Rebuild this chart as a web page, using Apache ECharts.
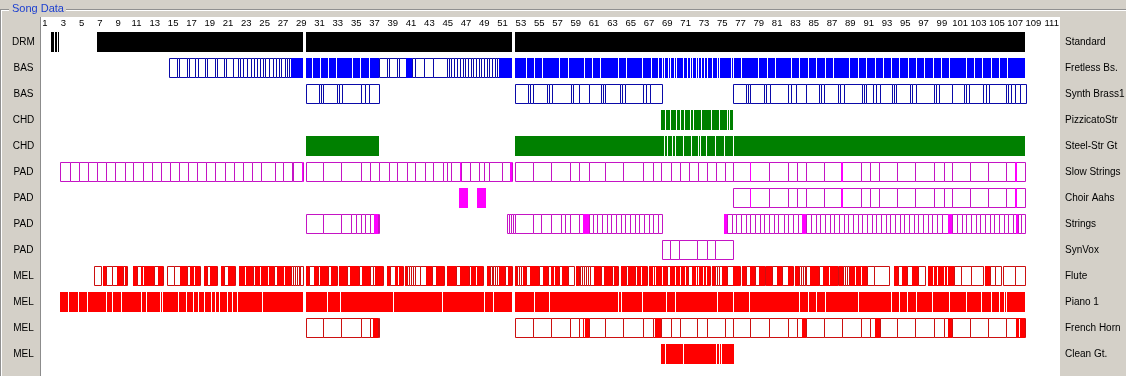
<!DOCTYPE html>
<html><head><meta charset="utf-8">
<script src="https://cdn.jsdelivr.net/npm/echarts@6/dist/echarts.min.js"></script>
<style>html,body{margin:0;padding:0;background:#d4d0c8;}#c{width:1126px;height:376px;}</style>
</head><body><div id="c"></div>
<script>
// ---- data (x values in bars) ----
const barTicks = [1,3,5,7,9,11,13,15,17,19,21,23,25,27,29,31,33,35,37,39,41,43,45,47,49,51,53,55,57,59,61,63,65,67,69,71,73,75,77,79,81,83,85,87,89,91,93,95,97,99,101,103,105,107,109,111];
const rowsLeft = ['DRM','BAS','BAS','CHD','CHD','PAD','PAD','PAD','PAD','MEL','MEL','MEL','MEL'];
const rowsRight = ['Standard','Fretless Bs.','Synth Brass1','PizzicatoStr','Steel-Str Gt','Slow Strings','Choir Aahs','Strings','SynVox','Flute','Piano 1','French Horn','Clean Gt.'];

// outline runs: boundary lists (consecutive notes); fill runs: boundary lists of solid notes
const drmFill = [[1.62,2.02],[2.14,2.28],[2.4,2.52],[6.71,29.16],[29.52,52.03],[52.36,108.08]];

const basFretOut = [
 [14.59,15.46,15.68,16.48,16.77,17.43,17.72,18.52,18.74,19.54,19.76,20.56,20.78,21.58,22.09,22.31,22.6,23.04,23.47,23.84,24.2,24.49,24.78,25.07,25.51,25.88,26.24,26.53,26.75,27.26,27.48,27.7,27.84],
 [37.46,38.41,38.63,39.43,39.65,40.45,41.12,41.48,42.36,43.43,44.89,45.11,45.4,45.69,46.06,46.35,46.64,46.93,47.22,47.51,47.81,48.1,48.39,48.68,48.97,49.26,49.55,49.85,50.14,50.43,50.65]
];
const basFretFill = [
 [27.84,29.16],
 [29.52,30.25,31.12,31.99,32.87,34.69,35.56,36.51,37.46],
 [40.45,41.12],
 [50.65,52.03],
 [52.36,53.63,54.58,55.45,57.27,58.22,60.04,60.92,61.79,63.69,64.56,66.38,67.33,68.13,68.49,68.78,69.15,69.44,69.81,70.1,70.83,71.26,71.56,71.85,72.21,72.5,72.79,73.08,73.45,74.03,74.5,74.76,76.03,76.25,77.2,79.02,79.97,80.84,82.66,83.54,84.49,85.36,86.31,87.18,89.0,89.95,90.83,91.77,92.65,93.59,94.47,95.42,96.29,97.16,98.11,98.99,99.86,101.76,102.63,103.51,104.45,105.4,106.2,108.08]
];

const basBrassOut = [
 [29.52,30.9,31.12,31.34,32.94,33.16,33.45,35.49,35.93,36.37,37.53],
 [52.35,53.78,54.0,54.29,55.82,56.04,56.4,58.44,58.73,59.32,60.41,61.72,61.94,62.23,63.83,64.05,64.34,66.38,66.68,67.11,68.38],
 [76.17,77.56,77.78,78.07,79.6,79.82,80.26,82.22,82.51,83.1,84.19,85.57,85.79,86.08,87.61,87.83,88.27,90.23,90.45,90.74,91.47,91.76,92.2,93.51,93.73,94.02,95.55,95.77,96.13,98.1,98.32,98.69,100.14,101.45,101.67,101.96,103.49,103.78,104.15,106.04,106.26,106.55,106.99,107.5,108.15]
];

const chdPizzFill = [[68.35,68.85,69.44,70.02,70.53,70.89,71.55,71.92,72.79,73.89,74.72,75.59,75.81,76.17]];
const chdSteelFill = [[29.52,37.46],[52.36,68.78,69.07,69.66,69.95,70.82,71.7,72.43,72.72,73.37,74.32,75.3,76.32,108.08]];

const padSlowOut = [
 [2.66,3.73,4.72,5.7,6.71,7.67,8.68,9.71,10.65,11.68,12.66,13.64,14.66,15.64,16.63,17.64,18.62,19.61,20.64,21.62,22.6,23.62,24.57,26.09,27.05,28.0,28.13,29.16],
 [29.52,31.41,33.38,35.49,36.51,37.46,38.55,39.5,40.51,41.47,42.49,43.43,44.45,44.97,45.4,46.42,47.44,48.39,48.97,49.48,50.94,51.89,52.03],
 [52.35,54.28,56.25,58.36,59.38,60.41,62.23,64.19,66.31,67.4,68.35,69.37,70.39,71.34,72.36,73.38,74.32,75.25,76.17,78.07,80.11,82.22,83.17,84.12,86.09,88.05,90.16,91.18,92.13,94.1,96.07,98.18,99.2,100.14,102.04,104.01,106.05,107.07,108.08]
];
const padSlowFill = [[29.05,29.16],[46.33,46.5],[51.85,52.03],[77.98,78.16],[87.96,88.14],[106.98,107.16]];

const padChoirOut = [[76.17,78.07,80.11,82.22,83.17,84.12,86.09,88.05,90.16,91.18,92.13,94.1,96.07,98.18,99.2,100.14,102.04,104.01,106.05,107.07,108.08]];
const padChoirFill = [[46.24,47.22],[48.2,49.18],[77.98,78.16],[87.96,88.14],[106.98,107.16]];

const padStrOut = [
 [29.52,31.41,33.38,34.47,34.98,35.49,36.0,36.51,36.95,37.39,37.53],
 [51.44,51.66,51.88,52.1,52.39,54.28,55.23,56.25,57.42,57.85,58.36,59.38,59.82,60.41,60.84,61.35,61.86,62.37,62.88,63.39,63.9,64.41,64.92,65.43,65.94,66.45,66.96,67.47,67.98,68.38],
 [75.23,75.52,76.03,76.54,77.05,77.56,78.07,78.58,79.09,79.6,80.11,80.62,81.13,81.71,82.22,82.73,83.24,83.75,84.19,84.7,85.21,85.72,86.23,86.74,87.25,87.76,88.27,88.78,89.29,89.8,90.31,90.83,91.34,91.85,92.36,92.87,93.38,93.89,94.4,94.91,95.42,95.93,96.44,96.95,97.46,97.97,98.48,98.99,99.64,100.14,100.65,101.16,101.67,102.18,102.69,103.2,103.71,104.23,104.74,105.25,105.76,106.27,106.78,107.07,107.36,107.65,108.08]
];
const padStrFill = [[36.95,37.39],[59.82,60.41],[75.23,75.52],[83.75,84.19],[99.64,100.14],[107.07,107.36]];

const padVoxOut = [[68.38,69.29,70.31,72.28,73.3,74.25,76.2]];

const melFluteOut = [
 [6.35,7.15],
 [7.37,7.66,8.32,8.83,9.55,9.72,9.99],
 [10.58,11.0,11.5,11.8,12.5,12.9,13.3,13.86],
 [14.36,15.1,15.8,16.5,16.8,17.4,17.94],
 [18.37,18.65,19.0,19.76],
 [20.2,20.55,21.0,21.79],
 [22.16,23.0,23.7,24.0,24.6,25.5,26.0,26.35,27.2,27.9,28.1,28.3,28.5,28.7,28.9,29.16],
 [29.52,29.9,30.4,30.8,31.0,31.9,32.3,32.87],
 [33.16,34.0,34.3,35.3,35.6,36.5,36.8,37.1,37.96],
 [38.34,38.7,39.2,39.7,40.15],
 [40.3,40.6,40.8,41.0,41.2,41.4,42.0,42.6,43.3,43.7,44.6],
 [44.89,45.9,46.3,47.3,47.5,48.2,48.89],
 [49.26,49.6,49.8,50.0,50.2,50.4,50.6,51.3,51.6,52.03],
 [52.36,52.6,52.8,53.0,53.2,53.6,54.0,55.0,55.4,56.0,56.3,56.73,57.17,57.46,58.2,58.84],
 [59.05,59.3,59.5,59.7,59.9,60.1,60.3,60.6,61.0,61.8,62.1,62.9,63.2,63.64],
 [63.94,64.5,64.7,65.5,65.7,66.2,66.78],
 [67.0,67.5,67.8,68.5,69.0,69.3,70.0,70.5,71.0,71.3,71.7,72.2,72.5,73.0,73.3,73.66],
 [73.85,74.2,74.4,74.6,75.0,75.5,76.2,76.94],
 [77.12,77.6,78.0,78.6,79.0,79.67],
 [79.81,80.4,81.0,81.5,82.2,82.73],
 [82.95,83.4,83.6,83.8,84.0,84.2,84.6,85.6,86.0,86.8,87.61],
 [87.76,88.2,88.4,88.6,88.8,89.0,89.6,90.3,90.82,91.6,93.2],
 [93.74,94.2,94.6,95.2,95.7,96.4,97.15],
 [97.51,98.1,98.6,99.3,99.7,100.29,101.09,102.2,103.52],
 [103.71,104.3,104.8,105.5],
 [105.7,106.98,108.08]
];
const melFluteFill = [
 [7.37,7.66],[8.83,9.55],[9.72,9.99],
 [10.58,11.0],[11.5,11.8,12.5],[12.5,12.9],[13.3,13.86],
 [15.8,16.5],[16.8,17.4,17.94],
 [18.37,18.65],[19.0,19.76],
 [20.2,20.55],[21.0,21.79],
 [22.16,23.0,23.7],[24.0,24.6,25.5,26.0],[26.35,27.2,27.9],
 [29.52,29.9],[30.4,30.8],[31.0,31.9],[32.3,32.87],
 [33.16,34.0],[34.3,35.3],[35.6,36.5],[37.1,37.96],
 [38.34,38.7],[39.2,39.7,40.15],
 [40.3,40.6],[42.6,43.3],[43.7,44.6],
 [44.89,45.9],[46.3,47.3],[47.5,48.2,48.89],
 [49.26,49.6],[50.6,51.3],[51.6,52.03],
 [52.36,52.6],[53.2,53.6],[54.0,55.0],[55.4,56.0],[56.3,56.73,57.17],[57.46,58.2],
 [59.05,59.3],[61.0,61.8],[62.1,62.9],[63.2,63.64],
 [63.94,64.5],[64.7,65.5],[65.7,66.2,66.78],
 [67.0,67.5,67.8,68.5,69.0],[69.3,70.0,70.5,71.0,71.3],[71.7,72.2,72.5,73.0,73.3,73.66],
 [73.85,74.2],[75.0,75.5],[76.2,76.94],
 [77.12,77.6],[78.0,78.6],[79.0,79.67],
 [79.81,80.4],[81.0,81.5],[82.2,82.73],
 [82.95,83.4],[84.6,85.6],[86.0,86.8,87.61],
 [87.76,88.2],[89.0,89.6,90.3,90.82],
 [93.74,94.2],[94.6,95.2],[95.7,96.4],
 [97.51,98.1,98.6,99.3,99.7,100.29],
 [103.71,104.3]
];

const melPianoFill = [
 [2.64,3.62,4.7,5.75,7.72,8.38,9.36,11.62,12.1,13.68,13.9,15.65,16.48,17.3,17.85,18.45,19.3,19.7,20.15,21.05,21.5,22.05,24.82,29.16],
 [29.52,31.96,33.31,39.13,44.45,44.6,49.11,50.06,52.03],
 [52.36,54.58,56.2,56.3,63.69,64.05,66.38,69.0,69.95,74.5,76.32,78.07,83.54,84.49,85.36,86.31,89.95,93.51,94.47,95.34,96.29,98.04,99.93,101.76,103.43,104.45,105.4,105.91,106.13,108.08]
];

const melHornOut = [
 [29.52,31.41,33.38,35.49,36.51,36.87,37.39,37.5],
 [52.35,54.28,56.25,58.36,59.38,59.74,60.41,62.23,64.19,66.31,67.4,67.69,68.35,69.37,70.39,72.28,73.3,75.25,76.17,78.07,80.11,82.22,83.17,83.75,84.19,86.09,88.05,90.16,91.18,91.69,92.2,94.1,96.07,98.18,99.2,99.64,100.14,102.04,104.01,106.05,107.07,108.08]
];
const melHornFill = [[36.87,37.39],[59.74,60.03,60.41],[67.69,68.35],[83.75,84.19],[91.69,92.2],[99.64,100.14],[107.07,107.43],[107.58,108.08]];

const melCleanFill = [[68.35,68.85,70.82,70.96,74.46,74.72,75.01,76.32]];

// ---- styles ----
const fillColor = ['#000000','#0000ff','#0000ff','#008000','#008000','#ff00ff','#ff00ff','#ff00ff','#ff00ff','#ff0000','#ff0000','#ff0000','#ff0000'];
const outColor  = ['#000000','#0a0aa8','#0a0aa8','#006400','#006400','#c414c4','#c414c4','#c414c4','#c414c4','#cc1010','#cc1010','#cc1010','#cc1010'];

const rowOut  = [[], basFretOut, basBrassOut, [], [], padSlowOut, padChoirOut, padStrOut, padVoxOut, melFluteOut, [], melHornOut, []];
const rowFill = [drmFill, basFretFill, [], chdPizzFill, chdSteelFill, padSlowFill, padChoirFill, padStrFill, [], melFluteFill, melPianoFill, melHornFill, melCleanFill];

const items = [];
rowOut.forEach((runs, r) => runs.forEach(run => {
  for (let i = 0; i < run.length - 1; i++) items.push([run[i], run[i+1], r, 0, 0]);
}));
rowFill.forEach((runs, r) => runs.forEach(run => {
  for (let i = 0; i < run.length - 1; i++) items.push([run[i], run[i+1], r, 1, i === run.length - 2 ? 1 : 0]);
}));

const FONT = "'Liberation Sans', Arial, sans-serif";
const chart = echarts.init(document.getElementById('c'), null, {renderer: 'canvas'});
chart.setOption({
  animation: false,
  backgroundColor: '#d4d0c8',
  graphic: [
    {type: 'rect', z: -10, silent: true, shape: {x: 41, y: 17, width: 1019, height: 359}, style: {fill: '#ffffff'}},
    {type: 'line', z: -5, silent: true, shape: {x1: 40.5, y1: 17, x2: 40.5, y2: 376}, style: {stroke: '#8c8c8c', lineWidth: 1}},
    {type: 'line', z: -5, silent: true, shape: {x1: 0.5, y1: 9, x2: 0.5, y2: 376}, style: {stroke: '#909090', lineWidth: 1}},
    {type: 'line', z: -5, silent: true, shape: {x1: 1.5, y1: 10, x2: 1.5, y2: 376}, style: {stroke: '#ffffff', lineWidth: 1}},
    {type: 'line', z: -5, silent: true, shape: {x1: 0, y1: 9.5, x2: 9, y2: 9.5}, style: {stroke: '#909090', lineWidth: 1}},
    {type: 'line', z: -5, silent: true, shape: {x1: 1, y1: 10.5, x2: 9, y2: 10.5}, style: {stroke: '#ffffff', lineWidth: 1}},
    {type: 'line', z: -5, silent: true, shape: {x1: 66, y1: 9.5, x2: 1126, y2: 9.5}, style: {stroke: '#909090', lineWidth: 1}},
    {type: 'line', z: -5, silent: true, shape: {x1: 66, y1: 10.5, x2: 1126, y2: 10.5}, style: {stroke: '#ffffff', lineWidth: 1}},
    {type: 'text', z: -4, silent: true, x: 12, y: 9, style: {text: 'Song Data', fill: '#1d40d0', font: "11px 'Liberation Sans', Arial, sans-serif", verticalAlign: 'middle', align: 'left'}}
  ],
  grid: {left: 41, right: 66, top: 29, bottom: 9, containLabel: false, outerBoundsMode: 'none'},
  xAxis: {
    type: 'value', position: 'top', min: 0.563, max: 111.905,
    axisLine: {show: false}, axisTick: {show: false}, splitLine: {show: false},
    axisLabel: {customValues: barTicks, fontSize: 9.5, fontFamily: FONT, color: '#000', margin: 1, hideOverlap: false}
  },
  yAxis: [
    {type: 'category', data: rowsLeft, inverse: true, axisLine: {show: false}, axisTick: {show: false}, splitLine: {show: false},
     axisLabel: {fontSize: 10, fontFamily: FONT, color: '#000', align: 'center', margin: 17.5}},
    {type: 'category', data: rowsRight, inverse: true, position: 'right', axisLine: {show: false}, axisTick: {show: false}, splitLine: {show: false},
     axisLabel: {fontSize: 10, fontFamily: FONT, color: '#000', align: 'left', margin: 5}}
  ],
  series: [{
    type: 'custom', xAxisIndex: 0, yAxisIndex: 0, data: items, clip: false,
    encode: {x: [0, 1], y: 2},
    renderItem: function (params, api) {
      const s = api.value(0), e = api.value(1), r = api.value(2), k = api.value(3), last = api.value(4);
      const p0 = api.coord([s, r]), p1 = api.coord([e, r]);
      const band = api.size([0, 1])[1];
      const h = Math.round(band * 0.77);
      const top = Math.round(p0[1] - h / 2);
      const x0 = Math.round(p0[0]), x1 = Math.round(p1[0]);
      if (k === 0) {
        return {type: 'rect', shape: {x: x0 + 0.5, y: top + 0.5, width: Math.max(x1 - x0, 1), height: h - 1},
                style: {fill: '#ffffff', stroke: outColor[r], lineWidth: 1}};
      }
      return {type: 'rect', shape: {x: x0, y: top, width: Math.max(x1 - x0 - (last ? 0 : 1), 1), height: h},
              style: {fill: fillColor[r]}};
    }
  }]
});
</script></body></html>
